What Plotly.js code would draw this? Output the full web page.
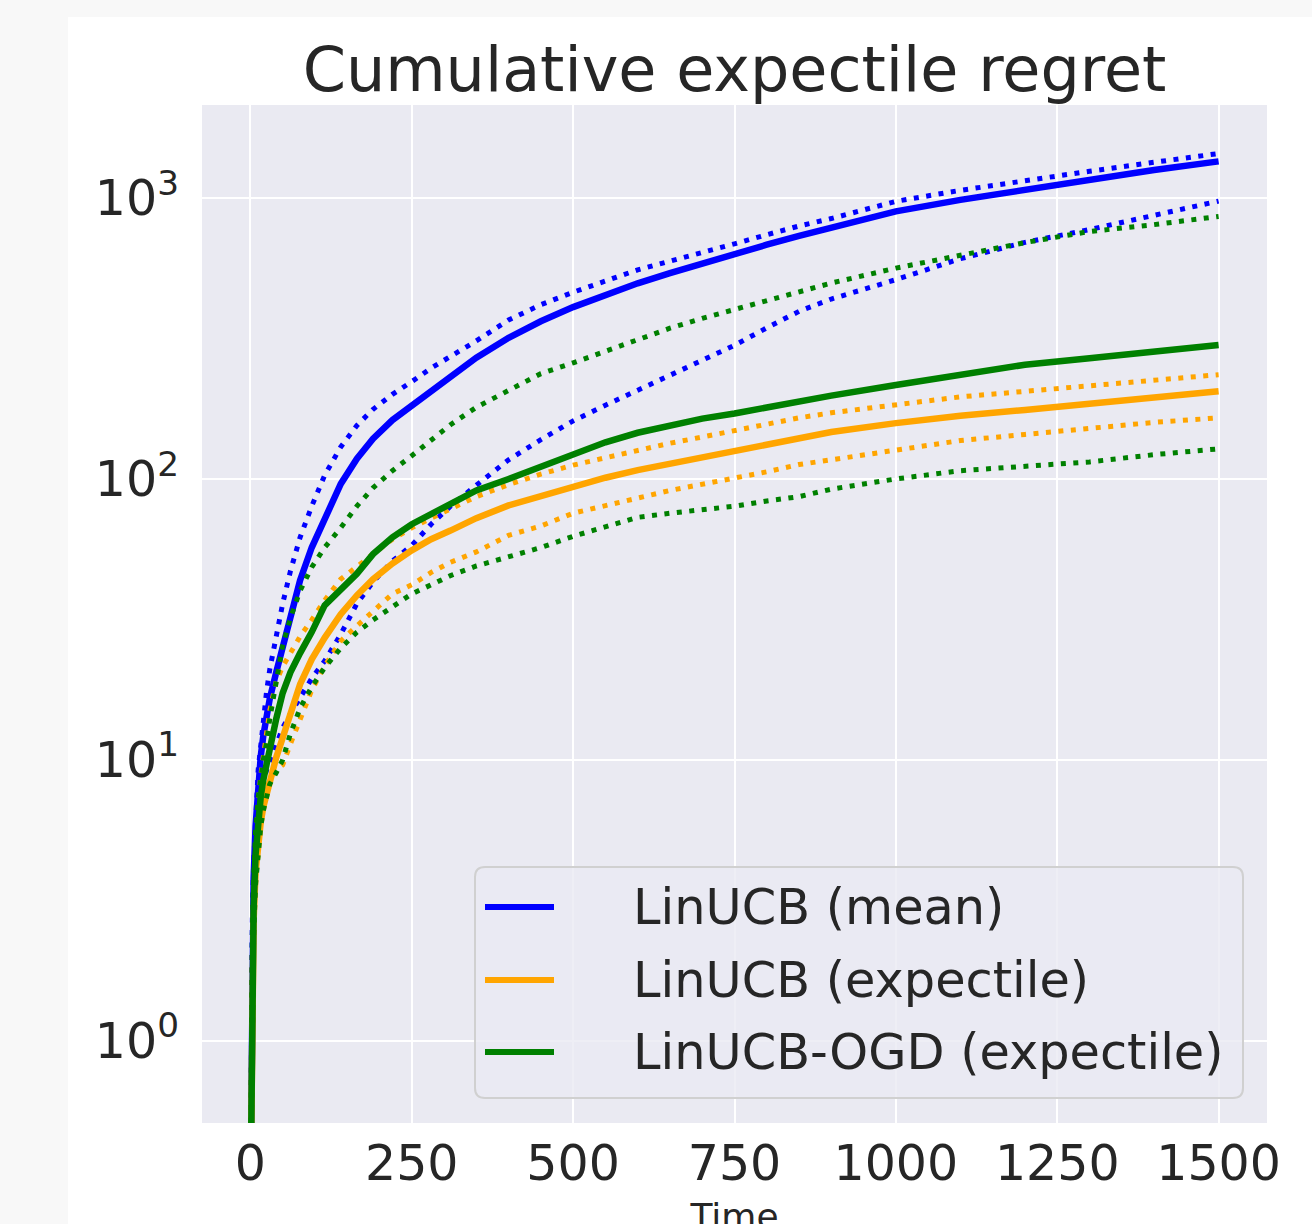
<!DOCTYPE html>
<html>
<head>
<meta charset="utf-8">
<script src="https://cdn.plot.ly/plotly-3.0.1.min.js"></script>
<style>
html,body{margin:0;padding:0;background:#f8f8f8;width:1312px;height:1224px;overflow:hidden;}
#chart{position:absolute;left:68px;top:17px;width:1244px;height:1250px;background:#ffffff;}
</style>
</head>
<body>
<div id="chart"></div>
<script>
// ---- data ----
const time = [0,1,2,3,5,8,12,16,20,25,30,40,50,62,77,95,115,140,165,190,220,250,280,310,350,400,450,500,550,600,650,700,750,800,850,900,1000,1100,1200,1300,1400,1500];

const linucbMean      = [0.25,0.7,1.6,2.4,3.8,5.8,8.2,10.3,12.2,14.3,16.5,20.5,25.5,33,43.6,57,72,96,118,139,162,182,206,231,270,318,364,409,452,497,540,585,628,682,733,787,896,985,1072,1165,1258,1350];
const linucbMeanUpper = [0.25,0.8,1.8,2.8,4.3,6.5,9.2,11.2,14,17.5,21,28,36,47,62,80,103,130,155,177,200,222,248,273,310,368,417,462,505,555,596,638,687,740,795,845,973,1065,1155,1245,1340,1440];
const linucbMeanLower = [0.25,0.6,1.4,2.2,3.5,5,6.8,7.8,8.5,9.2,9.8,11.2,13,14.6,16.8,19.5,22.5,28,36,43,51,58,69,80,95,117,138,161,183,207,233,266,299,345,395,437,512,608,695,772,872,975];

const linucbExp      = [0.25,0.55,1.0,1.7,2.7,4.0,5.2,6.0,6.8,7.6,8.5,10.2,12,14.8,18.6,22.8,27.2,33,38.5,44,50,55.7,61,65.5,72.5,80.5,87,93.4,101,107.5,113.5,119,126,133,140.5,147,158,168,176,186,196,205];
const linucbExpUpper = [0.25,0.6,1.2,2.0,3.4,5.2,7,8.8,10.5,12.5,15,19,21.5,24,27.5,31.5,37,44,49,54,61,67,72.5,78,86.5,95.5,104,112,119,126.5,134,141,149,157,165,172,183,196,205,215,226,235];
const linucbExpLower = [0.25,0.5,0.9,1.5,2.5,3.7,5,6,6.9,7.8,8.5,9.2,9.6,11.4,14,17.7,21.6,26.5,30,34,39,42,46.5,50.5,55,63,68,75.5,80,85.5,91,95.5,101,106,112.5,117,126,137,144,151,159,165];

const ogdExp      = [0.25,0.55,1.0,1.8,3.0,4.6,6.2,7.4,8.5,9.8,11,14,17.3,20.5,24,28.5,35.5,40.5,46,54,62,69,75,82,91,100,110,122,135,146,155,164,171,180,189,198,216,236,255,269,285,300];
const ogdExpUpper = [0.25,0.7,1.5,2.4,3.8,5.6,7.3,8.8,10,11.5,14,19,25.5,32,40,48.5,57,67,80,93,107,121,137,156,180,207,237,259,285,311,344,373,401,428,461,498,563,625,694,760,804,860];
const ogdExpLower = [0.25,0.5,0.9,1.5,2.4,3.6,4.8,5.8,6.6,7.5,8.2,9,10,12.4,15.3,18.2,21.3,25,28.5,31.5,35,39,42,45.3,49,53,57,62.5,67.5,73,75.5,77.5,80,83.5,86.5,92,100,107,111,115,122,128];

const seriesLabels = ['LinUCB (mean)', 'LinUCB (expectile)', 'LinUCB-OGD (expectile)'];
const xTickVals = [0,250,500,750,1000,1250,1500];
const yTickVals = [1,10,100,1000];
const yTickText = ['10<sup>0</sup>','10<sup>1</sup>','10<sup>2</sup>','10<sup>3</sup>'];

// ---- styling ----
const colors = ['#0000ff', '#ffa500', '#008000'];
const textColor = '#262626';
const font = 'DejaVu Sans, sans-serif';

const groups = [
  [linucbMean, linucbMeanUpper, linucbMeanLower],
  [linucbExp, linucbExpUpper, linucbExpLower],
  [ogdExp, ogdExpUpper, ogdExpLower]
];

const traces = [];
groups.forEach((g, i) => {
  traces.push({x: time, y: g[0], type: 'scatter', mode: 'lines', name: seriesLabels[i],
    line: {color: colors[i], width: 6.5}, showlegend: false, hoverinfo: 'skip'});
  [g[1], g[2]].forEach(arr => traces.push({x: time, y: arr, type: 'scatter', mode: 'lines',
    line: {color: colors[i], width: 5, dash: '5px,7.5px'}, showlegend: false, hoverinfo: 'skip'}));
});

// custom legend (box, line samples, labels) in paper coordinates
const px = v => v / 1065, py = v => v / 1018;
const L = (407 - 134) / 1065, R = (1175 - 134) / 1065, B = (1106 - 1081) / 1018, T = (1106 - 850) / 1018;
const rx = px(10), ry = py(10);
const boxPath = `M ${L+rx} ${B} L ${R-rx} ${B} Q ${R} ${B} ${R} ${B+ry} L ${R} ${T-ry} Q ${R} ${T} ${R-rx} ${T} L ${L+rx} ${T} Q ${L} ${T} ${L} ${T-ry} L ${L} ${B+ry} Q ${L} ${B} ${L+rx} ${B} Z`;
const shapes = [{type: 'path', xref: 'paper', yref: 'paper', path: boxPath,
  fillcolor: 'rgba(234,234,242,0.8)', line: {color: '#d0d0d0', width: 2}, layer: 'above'}];
const rowY = [(1106 - 890) / 1018, (1106 - 963) / 1018, (1106 - 1035) / 1018];
const annotations = [];
seriesLabels.forEach((lab, i) => {
  shapes.push({type: 'line', xref: 'paper', yref: 'paper', x0: (417 - 134) / 1065, x1: (486 - 134) / 1065,
    y0: rowY[i], y1: rowY[i], line: {color: colors[i], width: 6}, layer: 'above'});
  annotations.push({xref: 'paper', yref: 'paper', x: (563 - 134) / 1065, y: rowY[i], xanchor: 'left', yanchor: 'middle',
    text: lab, showarrow: false, font: {family: font, size: 49.4, color: textColor}});
});

const layout = {
  width: 1244, height: 1250,
  margin: {l: 134, r: 45, t: 88, b: 144, pad: 0},
  paper_bgcolor: '#ffffff',
  plot_bgcolor: '#eaeaf2',
  font: {family: font, color: textColor},
  title: {text: 'Cumulative expectile regret', font: {family: font, size: 62, color: textColor},
    x: 0.5, xref: 'paper', xanchor: 'center', y: 1 - 52 / 1250, yref: 'container', yanchor: 'middle'},
  xaxis: {range: [-75, 1575], tickmode: 'array', tickvals: xTickVals, ticks: '', showline: false, zeroline: false,
    gridcolor: '#ffffff', gridwidth: 2, tickfont: {family: font, size: 49, color: textColor},
    ticklabelstandoff: 7,
    title: {text: 'Time', font: {family: font, size: 36, color: textColor}, standoff: 12}, automargin: false},
  yaxis: {type: 'log', range: [Math.log10(0.51), Math.log10(2143)], tickmode: 'array', tickvals: yTickVals,
    ticktext: yTickText, ticks: '', showline: false, zeroline: false, gridcolor: '#ffffff', gridwidth: 2,
    tickfont: {family: font, size: 49, color: textColor}, ticklabelstandoff: 22, automargin: false},
  showlegend: false,
  shapes: shapes,
  annotations: annotations
};

Plotly.newPlot('chart', traces, layout, {staticPlot: true, displayModeBar: false});
</script>
</body>
</html>
